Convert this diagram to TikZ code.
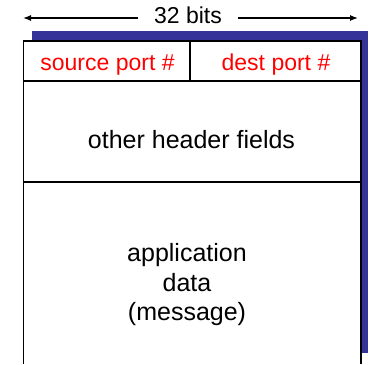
\documentclass[tikz,border=0pt]{standalone}
\usepackage{fontspec}
\setmainfont{Liberation Sans}
\usetikzlibrary{arrows.meta}
\definecolor{shadowblue}{HTML}{333399}
\definecolor{fieldred}{HTML}{FF0000}
\begin{document}
\begin{tikzpicture}[x=1pt,y=-1pt,
  border/.style={line width=1.6pt,black},
  redtext/.style={text=fieldred,font=\fontsize{23}{27}\selectfont,inner sep=0pt,anchor=base},
  blacktext/.style={text=black,font=\fontsize{25}{29.5}\selectfont,inner sep=0pt,align=center},
  arr/.style={line width=1.2pt,-{Latex[length=8pt,width=6pt]}}]
\useasboundingbox (0,0) rectangle (369,364);
% shadow
\fill[shadowblue] (32,31) rectangle (368,353);
% white segment box
\fill[white] (23.5,41) rectangle (361,364);
\draw[border] (23.5,364) -- (23.5,41) -- (361,41) -- (361,364);
\draw[border] (23.5,81) -- (361,81);
\draw[border] (23.5,182) -- (361,182);
\draw[border] (190,41) -- (190,81);
% width label
\node[text=black,font=\fontsize{23}{27}\selectfont,inner ysep=0pt,inner xsep=16pt,anchor=base] (bits) at (188,23) {32 bits};
\coordinate (L) at (23,18);
\coordinate (R) at (358,18);
\draw[arr] (bits.west |- L) -- (L);
\draw[arr] (bits.east |- R) -- (R);
% fields
\node[redtext] (src) at (107.5,70) {source port \#};
\node[redtext] (dst) at (276,70) {dest port \#};
\node[blacktext,anchor=base] (hdr) at (191.5,148) {other header fields};
\node[blacktext,anchor=north] (app) at (187,243.5) {application\\data\\(message)};
\end{tikzpicture}
\end{document}
